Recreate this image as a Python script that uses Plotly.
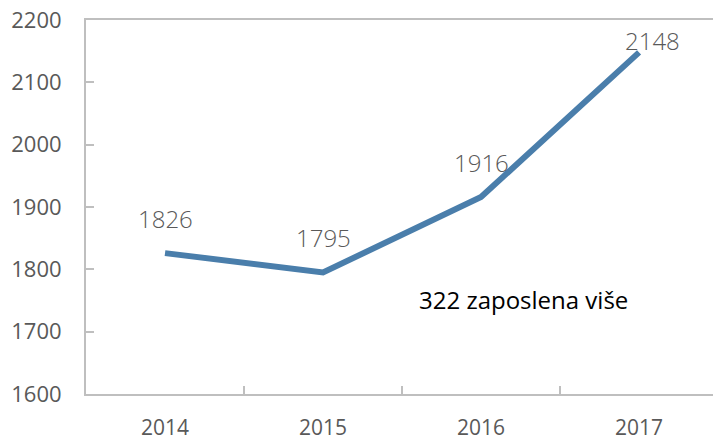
import plotly.graph_objects as go

years = ["2014", "2015", "2016", "2017"]
employees = [1826, 1795, 1916, 2148]
label_xshift = [0, 0, 0, 13]
label_yshift = [35, 35, 35, 12]
y_ticks = [1600, 1700, 1800, 1900, 2000, 2100, 2200]
note = "322 zaposlena više"

fig = go.Figure()
fig.add_trace(go.Scatter(
    x=years, y=employees, mode="lines",
    line=dict(color="#4a7eab", width=6), hoverinfo="skip"
))
for i, (y, dx, dy) in enumerate(zip(employees, label_xshift, label_yshift)):
    fig.add_annotation(x=i, y=y, text=str(y), showarrow=False,
                       xshift=dx, yshift=dy,
                       font=dict(family="Open Sans", size=24, color="#595959", weight=300))
fig.add_annotation(x=2.27, y=1751, xref="x", yref="y", text=note, showarrow=False,
                   font=dict(family="Open Sans", size=24, color="#000000"))

fig.update_layout(
    width=713, height=441,
    margin=dict(l=86, r=0, t=20, b=47),
    plot_bgcolor="white", paper_bgcolor="white",
    showlegend=False,
    font=dict(family="Open Sans", color="#595959"),
)
fig.update_xaxes(
    type="category", range=[-0.5, 3.468], automargin=False,
    showgrid=False, showline=True, linecolor="#bfbfbf", linewidth=2,
    mirror=True, ticks="inside", tickson="boundaries", ticklen=8,
    tickcolor="#bfbfbf", tickwidth=1.5, ticklabelstandoff=14,
    tickfont=dict(size=21, color="#595959"),
)
fig.update_yaxes(
    range=[1600, 2200], tickvals=y_ticks, automargin=False,
    showgrid=False, showline=True, linecolor="#bfbfbf", linewidth=2,
    ticks="inside", ticklen=8, tickcolor="#bfbfbf", tickwidth=1.5,
    ticklabelstandoff=18,
    tickfont=dict(size=22, color="#595959"), zeroline=False,
)
fig.write_html("out.html", config={"displayModeBar": False},
               post_script="document.body.style.margin='0';document.body.style.overflow='hidden';")
